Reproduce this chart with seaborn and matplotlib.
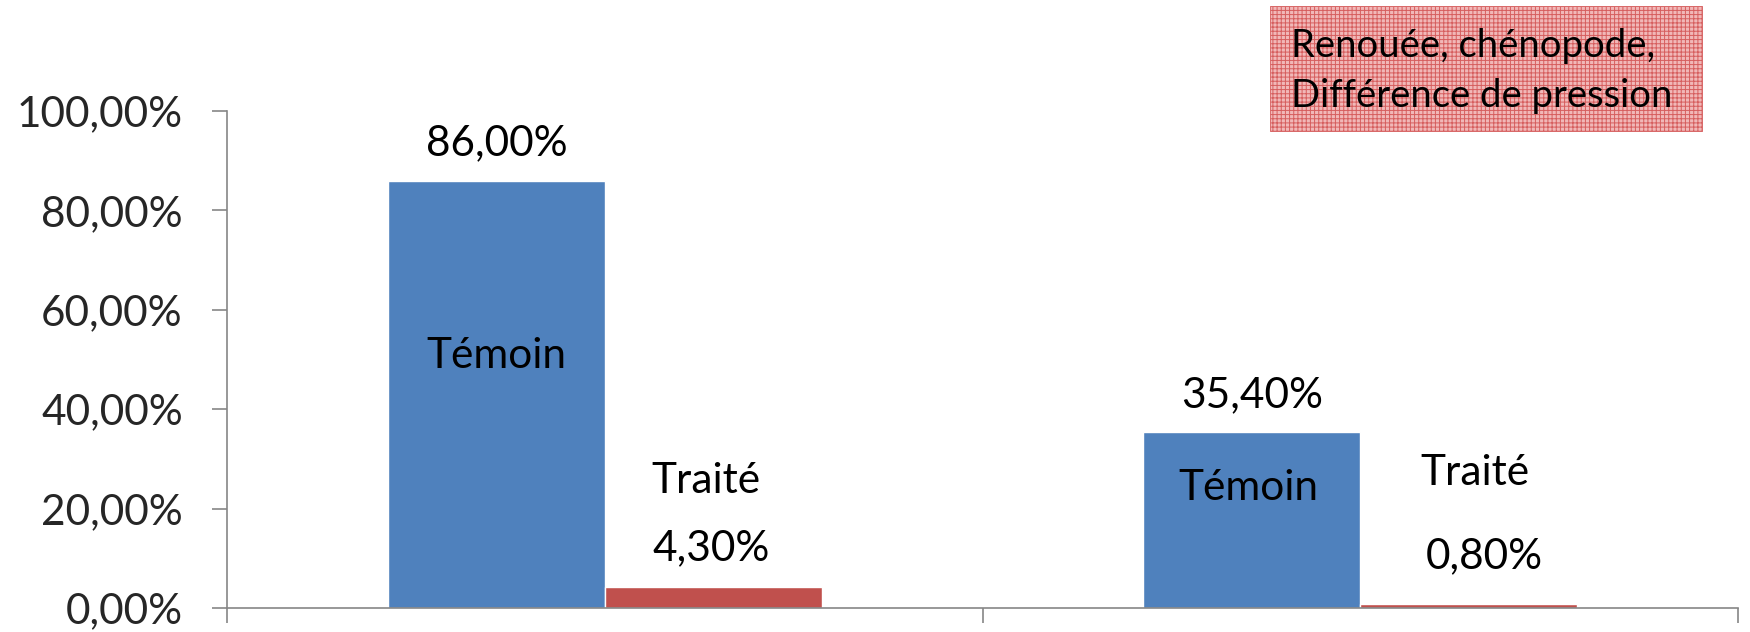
import matplotlib
matplotlib.use("Agg")
import matplotlib.pyplot as plt
from matplotlib.patches import Rectangle
import pandas as pd
import seaborn as sns

# Data
groups = ["Essai 1", "Essai 2"]
treatments = ["Témoin", "Traité"]
temoin_values = [86.00, 35.40]
traite_values = [4.30, 0.80]
y_ticks = [0, 20, 40, 60, 80, 100]
box_lines = ["Renouée, chénopode,", "Différence de pression"]

# Layout of the hand-placed labels (data units)
value_label_y = {"Témoin": [91.1, 40.4], "Traité": [9.7, 8.1]}
value_label_dx = {"Témoin": [0.0, 0.0], "Traité": [-0.003, 0.021]}
name_label_y = {"Témoin": [48.3, 21.7], "Traité": [23.1, 24.7]}
name_label_dx = {"Témoin": [0.0, -0.004], "Traité": [-0.009, 0.008]}

df = pd.DataFrame({
    "groupe": groups * 2,
    "traitement": [treatments[0]] * len(groups) + [treatments[1]] * len(groups),
    "valeur": temoin_values + traite_values,
})

sns.set_style("white")
plt.rcParams["font.family"] = ["Lato", "DejaVu Sans"]
plt.rcParams["hatch.linewidth"] = 0.7

BLUE = "#4F81BD"
RED = "#C0504D"
AXIS = "#868686"
W, H = 1750, 632

fig = plt.figure(figsize=(W / 100, H / 100), dpi=100)
ax = fig.add_axes([227 / W, 1 - 608 / H, (1738 - 227) / W, (608 - 111) / H])

sns.barplot(data=df, x="groupe", y="valeur", hue="traitement",
            hue_order=treatments, palette=[BLUE, RED], width=0.574,
            saturation=1, legend=False, ax=ax)

ax.set_xlim(-0.5, len(groups) - 0.5)
ax.set_ylim(0, 100)
ax.set_yticks(y_ticks)
ax.set_yticklabels([f"{v:.2f}%".replace(".", ",") for v in y_ticks])
ax.set_xticks([i - 0.5 for i in range(len(groups) + 1)])
ax.set_xticklabels([])
ax.set_xlabel("")
ax.set_ylabel("")

for side in ("top", "right"):
    ax.spines[side].set_visible(False)
for side in ("left", "bottom"):
    ax.spines[side].set_color(AXIS)
    ax.spines[side].set_linewidth(1.2)

ax.tick_params(axis="y", direction="out", length=10.8, width=1.2,
               color=AXIS, labelsize=30.5, pad=21, left=True)
ax.tick_params(axis="x", direction="out", length=10.8, width=1.2,
               color=AXIS, bottom=True)

label_font = dict(fontsize=30.5, color="black", ha="center", va="baseline")
for name, container in zip(treatments, ax.containers):
    for k, bar in enumerate(container):
        xc = bar.get_x() + bar.get_width() / 2
        val = bar.get_height()
        ax.text(xc + value_label_dx[name][k], value_label_y[name][k],
                f"{val:.2f}%".replace(".", ","), **label_font)
        ax.text(xc + name_label_dx[name][k], name_label_y[name][k],
                name, **label_font)

# Hatched caption box in the top-right corner
box = Rectangle((1270 / W, 1 - 131 / H), (1702 - 1270) / W, (131 - 6) / H,
                transform=fig.transFigure, facecolor="#f1b8b8",
                edgecolor="#d65e5e", hatch="++++", linewidth=0.6)
fig.add_artist(box)
for i, line in enumerate(box_lines):
    fig.text(1291 / W, 1 - (57 + 50 * i) / H, line, fontsize=27.5,
             ha="left", va="baseline", color="black")

fig.savefig("out.png", dpi=100, facecolor="white")
